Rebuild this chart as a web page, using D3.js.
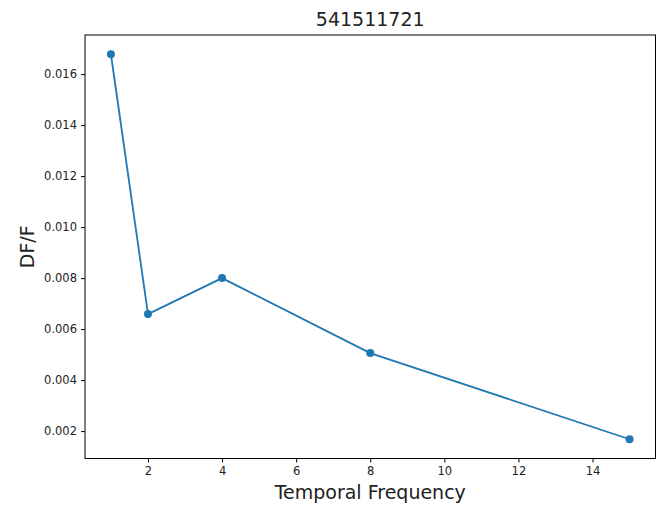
<!DOCTYPE html>
<html>
<head>
<meta charset="utf-8">
<script src="https://cdn.jsdelivr.net/npm/d3@7"></script>
<style>
  body { margin: 0; background: #fff; }
  svg text { font-family: 'DejaVu Sans', sans-serif; fill: #222; }
</style>
</head>
<body>
<svg id="chart" width="663" height="506"></svg>
<script>
// data
const title = '541511721';
const freqs = [1, 2, 4, 8, 15];
const dff = [0.01678, 0.00659, 0.00800, 0.00506, 0.00168];
const xTicks = [2, 4, 6, 8, 10, 12, 14];
const yTicks = [0.002, 0.004, 0.006, 0.008, 0.010, 0.012, 0.014, 0.016];

const svg = d3.select('#chart');
const box = {left: 85, right: 655.5, top: 35, bottom: 458.5};

// matplotlib style 5% margins
function padded(vals) {
  let lo = d3.min(vals), hi = d3.max(vals), m = (hi - lo) * 0.05;
  return [lo - m, hi + m];
}

const x = d3.scaleLinear().domain(padded(freqs)).range([box.left, box.right]);
const y = d3.scaleLinear().domain(padded(dff)).range([box.bottom, box.top]);

//x axis
let xa = svg.append('g')
  .attr('transform', 'translate(0,' + box.bottom + ')')
  .call(d3.axisBottom(x).tickValues(xTicks).tickFormat(d3.format('d')).tickSize(4).tickPadding(4));
xa.selectAll('text').attr('font-size', 11.5);

//y axis
let ya = svg.append('g')
  .attr('transform', 'translate(' + box.left + ',0)')
  .call(d3.axisLeft(y).tickValues(yTicks).tickFormat(d3.format('.3f')).tickSize(4).tickPadding(4));
ya.selectAll('text').attr('font-size', 11.5);

svg.selectAll('.domain').remove();
svg.selectAll('.tick line').attr('stroke', '#000').attr('stroke-width', 1);

// frame
svg.append('rect')
  .attr('x', box.left).attr('y', box.top)
  .attr('width', box.right - box.left).attr('height', box.bottom - box.top)
  .attr('fill', 'none').attr('stroke', '#000').attr('stroke-width', 1);

const pts = freqs.map((f, i) => [f, dff[i]]);

svg.append('path')
  .datum(pts)
  .attr('fill', 'none')
  .attr('stroke', '#1f77b4')
  .attr('stroke-width', 1.8)
  .attr('d', d3.line().x(d => x(d[0])).y(d => y(d[1])));

svg.selectAll('circle.pt')
  .data(pts)
  .enter().append('circle')
  .attr('class', 'pt')
  .attr('cx', d => x(d[0]))
  .attr('cy', d => y(d[1]))
  .attr('r', 4)
  .attr('fill', '#1f77b4');

// texts
svg.append('text')
  .attr('x', (box.left + box.right) / 2).attr('y', 26)
  .attr('text-anchor', 'middle').attr('font-size', 19)
  .text(title);

svg.append('text')
  .attr('x', (box.left + box.right) / 2).attr('y', 499)
  .attr('text-anchor', 'middle').attr('font-size', 19)
  .text('Temporal Frequency');

svg.append('text')
  .attr('transform', 'translate(34,' + (box.top + box.bottom) / 2 + ') rotate(-90)')
  .attr('text-anchor', 'middle').attr('font-size', 19)
  .text('DF/F');
</script>
</body>
</html>
